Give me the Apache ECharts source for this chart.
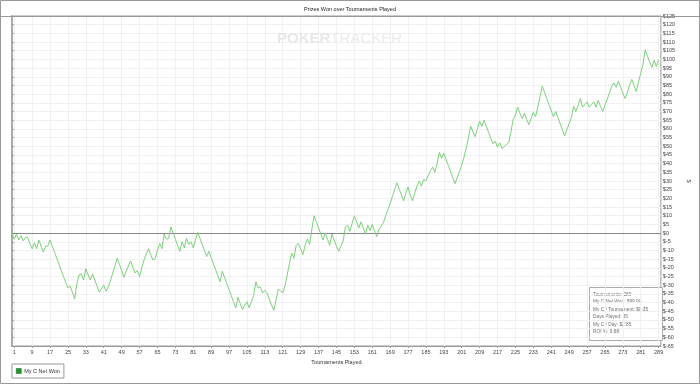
<!DOCTYPE html>
<html><head><meta charset="utf-8">
<script src="https://cdn.jsdelivr.net/npm/echarts@6/dist/echarts.min.js"></script>
<style>html,body{margin:0;padding:0;background:#fff}#c{width:700px;height:384px}</style>
</head><body><div id="c"></div>
<script>
const chartTitle = 'Prizes Won over Tournaments Played';
const xAxisName = 'Tournaments Played';
const yAxisName = '$';
const seriesName = 'My C Net Won';
const xTickLabels = [1,9,17,25,33,41,49,57,65,73,81,89,97,105,113,121,129,137,145,153,161,169,177,185,193,201,209,217,225,233,241,249,257,265,273,281,289];
const yMin = -65, yMax = 125, yStep = 5;
const netWon = [
  0, -3.5, -0.5, -4, -1.5, -4.5, -2.5, -2.5, -6, -9,
  -5.5, -9, -4, -7.5, -11, -7.5, -7.5, -4, -7.5, -11,
  -14.5, -18, -21.5, -25, -28.5, -31.5, -30.5, -34, -38, -29,
  -24, -23.5, -27, -20.5, -24, -27, -23.5, -27, -30.5, -34,
  -32, -30, -33.5, -31, -27.5, -23, -19, -14.5, -18, -21.5,
  -25.5, -22, -19, -16, -19.5, -23, -21.5, -25, -20, -15.5,
  -12, -9, -12.5, -15.5, -14.5, -10, -6, -9, -0.5, -3.5,
  -3, 3.5, 0, -3.5, -7, -10.5, -5, -8.5, -3, -6.5,
  -5, -8.5, -4, 0.5, -3, -6.5, -10, -13.5, -10.5, -14,
  -17.5, -21, -24.5, -28, -22, -25.5, -29, -32.5, -36, -39.5,
  -43, -37, -40.5, -44, -41.5, -39.5, -43, -39.5, -36, -28,
  -31.5, -31, -34.5, -33, -34.5, -38, -41.5, -44.5, -38.5, -32.5,
  -33, -34.5, -30.5, -24, -17.5, -11.5, -14.5, -7, -6, -9,
  -12.5, -7, -3.5, -6.5, 2, 10, 6.5, 3, -0.5, -4,
  0, -3.5, -7, -0.5, -4, -7.5, -10.5, -7.5, -4.5, 3.5,
  4.5, 1, 5.5, 10, 6.5, 3, 6.5, 3, -0.5, 4.5,
  1.5, 5, 1.5, -2, 2, 4, 6, 10, 13.5, 17,
  21, 25, 29, 25.5, 22, 18.5, 23, 26.5, 22, 18.5,
  23, 27, 30, 27, 31, 30, 33, 36, 38, 35,
  40, 46.5, 43, 46, 42.5, 39, 35.5, 32, 28.5, 32,
  35.5, 39, 43.5, 49, 55, 61.5, 58.5, 55.5, 60, 64.5,
  61.5, 65, 61.5, 58, 54.5, 51.5, 53, 49.5, 52, 48.5,
  50, 51, 52, 58.5, 65.5, 68, 72.5, 69, 66, 69,
  65.5, 62.5, 66, 69.5, 67, 72.5, 78.5, 84.5, 81, 77.5,
  74, 70.5, 67, 70, 66.5, 63, 59.5, 56, 59.5, 63,
  66.5, 73, 70, 73.5, 77.5, 72.5, 74, 75.5, 72.5, 74,
  75.5, 72.5, 76.5, 73, 70, 73.5, 77, 80.5, 84.5, 86.5,
  84, 87.5, 84, 80.5, 77.5, 81, 85, 88.5, 85, 81.5,
  87, 92, 97, 105.5, 102, 98.5, 95.5, 99.5, 96, 99.9
];
const statsLines = ['Tournaments: 289', 'My C Net Won: $99.90', 'My C / Tournament: $0.35', 'Days Played: 35', 'My C / Day: $2.85', 'ROI %: 9.88'];
const watermarkA = 'POKER', watermarkB = 'TRACKER';

const FONT = '"Liberation Sans", Arial, sans-serif';
const chart = echarts.init(document.getElementById('c'), null, {renderer: 'canvas'});
const seriesData = netWon.map((v, i) => [i, v]);

chart.setOption({
  animation: false,
  backgroundColor: '#fff',
  textStyle: {fontFamily: FONT},
  title: {
    text: chartTitle, left: 'center', top: 6, padding: 0,
    textStyle: {fontSize: 5.5, fontWeight: 'normal', color: '#222', fontFamily: FONT}
  },
  grid: {left: 12, right: 35, top: 16, bottom: 38, show: true, borderColor: '#999', borderWidth: 1, backgroundColor: 'transparent'},
  legend: {
    left: 12, top: 364, padding: [4, 4], borderColor: '#999', borderWidth: 1, borderRadius: 0,
    itemWidth: 5, itemHeight: 5, itemGap: 2,
    textStyle: {fontSize: 5.5, color: '#333', fontFamily: FONT, padding: [0, 0, 0, -2]},
    data: [{name: seriesName, icon: 'rect', itemStyle: {color: '#1f9a1f', borderColor: '#063', borderWidth: 0.5}}]
  },
  xAxis: {
    type: 'value', min: 0, max: 290,
    name: xAxisName, nameLocation: 'middle', nameGap: 12,
    nameTextStyle: {fontSize: 5.5, color: '#333', fontFamily: FONT},
    axisLine: {show: true, onZero: false, lineStyle: {color: '#999', width: 1}},
    axisTick: {show: true, customValues: xTickLabels, length: 2, lineStyle: {color: '#999'}},
    axisLabel: {customValues: xTickLabels, fontSize: 5.5, color: '#444', margin: 3, fontFamily: FONT},
    splitLine: {show: true, lineStyle: {color: '#f0f0f0', width: 1}}
  },
  yAxis: {
    type: 'value', position: 'right', min: yMin, max: yMax, interval: yStep,
    name: yAxisName, nameLocation: 'middle', nameGap: 15, nameRotate: -90,
    nameTextStyle: {fontSize: 5.5, color: '#444', fontFamily: FONT},
    axisLine: {show: true, lineStyle: {color: '#aaa', width: 2}},
    axisTick: {show: true, length: 2, lineStyle: {color: '#999'}},
    axisLabel: {formatter: v => '$' + v, fontSize: 5.5, color: '#444', margin: 2, fontFamily: FONT},
    splitLine: {show: true, lineStyle: {color: '#f0f0f0', width: 1}}
  },
  series: [{
    name: seriesName, type: 'line', data: seriesData, showSymbol: false, symbol: 'none',
    color: '#7ad27a',
    lineStyle: {color: '#7ad27a', width: 1},
    z: 3,
    markLine: {
      silent: true, symbol: ['none', 'none'], label: {show: false},
      lineStyle: {color: '#888', width: 1, type: 'solid'},
      data: [{yAxis: 0}], z: 2
    }
  }],
  graphic: [
    {type: 'rect', shape: {x: 0.5, y: 0.5, width: 699, height: 383}, style: {fill: 'none', stroke: '#999', lineWidth: 1}, z: 10, silent: true},
    {type: 'line', shape: {x1: 0, y1: 16.5, x2: 700, y2: 16.5}, style: {stroke: '#999', lineWidth: 1}, z: 10, silent: true},
    {type: 'text', left: 277, top: 31, z: 1, silent: true,
      style: {text: '{a|' + watermarkA + '}{b|' + watermarkB + '}', rich: {
        a: {fontSize: 15, fontWeight: 'bold', fill: '#e8e8e8', fontFamily: FONT},
        b: {fontSize: 15, fontWeight: 'normal', fill: '#ebebeb', fontFamily: FONT}
      }}},
    {type: 'group', left: 589, top: 287, z: 20, children: [
      {type: 'rect', shape: {x: 0.5, y: 0.5, width: 73, height: 53}, style: {fill: '#fff', stroke: '#aaa', lineWidth: 1}},
      {type: 'text', left: 4, top: 4, style: {text: statsLines.join('\n'), fontSize: 4.8, lineHeight: 7.4, fill: '#707070', fontFamily: FONT}}
    ]}
  ]
});
</script></body></html>
